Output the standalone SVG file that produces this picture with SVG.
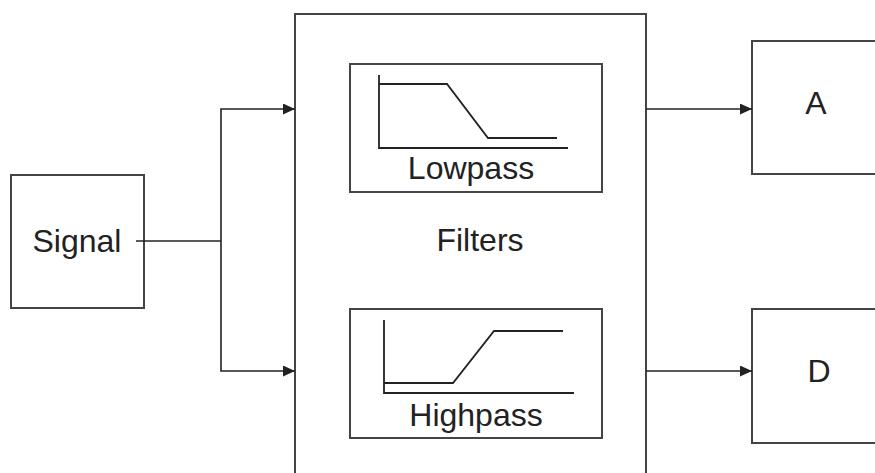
<svg xmlns="http://www.w3.org/2000/svg" width="875" height="473" viewBox="0 0 875 473">
<style>
.box{fill:none;stroke:#444;stroke-width:2}
.ln{fill:none;stroke:#222;stroke-width:1.6}
.gr{fill:none;stroke:#222;stroke-width:1.8}
text{font-family:"Liberation Sans",Arial,sans-serif;font-size:32px;fill:#222}
</style>
<defs>
<marker id="arr" viewBox="0 0 12 11" refX="12" refY="5.5" markerWidth="12" markerHeight="11" markerUnits="userSpaceOnUse" orient="auto">
<path d="M0,0 L12,5.5 L0,11 z" fill="#222"/>
</marker>
</defs>
<rect width="875" height="473" fill="#fff"/>
<g id="signal">
<rect class="box" x="11" y="175" width="133" height="133"/>
<text x="77" y="252" text-anchor="middle">Signal</text>
</g>
<g id="filters">
<rect class="box" x="295" y="14" width="351" height="470"/>
<text x="480" y="251" text-anchor="middle">Filters</text>
</g>
<g id="lowpass">
<rect class="box" x="350" y="64" width="252" height="128"/>
<path class="gr" d="M379,75 V148 H568"/>
<path class="gr" d="M379,84 H447 L488,138 H557"/>
<text x="471" y="179" text-anchor="middle">Lowpass</text>
</g>
<g id="highpass">
<rect class="box" x="350" y="309" width="252" height="129"/>
<path class="gr" d="M384,320 V393 H574"/>
<path class="gr" d="M384,383 H453 L494,331 H563"/>
<text x="476" y="426" text-anchor="middle">Highpass</text>
</g>
<g id="a">
<rect class="box" x="752" y="41" width="130" height="133"/>
<text x="816" y="114" text-anchor="middle">A</text>
</g>
<g id="d">
<rect class="box" x="752" y="309" width="130" height="134"/>
<text x="819" y="382" text-anchor="middle">D</text>
</g>
<g id="connectors">
<path class="ln" d="M136,241 H221"/>
<path class="ln" d="M221,241 V109 H295" marker-end="url(#arr)"/>
<path class="ln" d="M221,241 V371 H295" marker-end="url(#arr)"/>
<path class="ln" d="M646,109 H752" marker-end="url(#arr)"/>
<path class="ln" d="M646,371 H752" marker-end="url(#arr)"/>
</g>
</svg>
